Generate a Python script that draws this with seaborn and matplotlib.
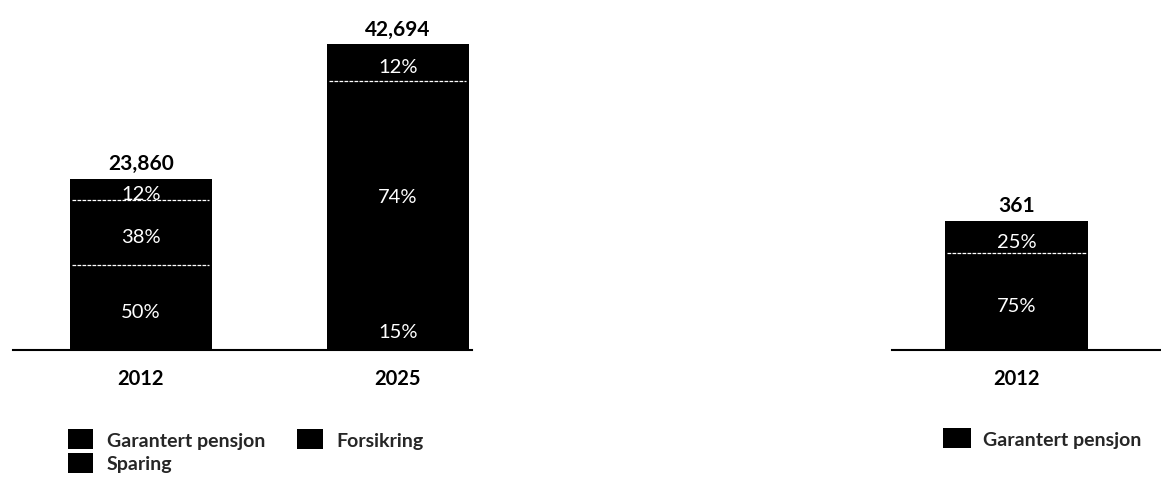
import matplotlib
matplotlib.use("Agg")
import matplotlib.pyplot as plt
import seaborn as sns
import pandas as pd
import numpy as np
from matplotlib.patches import Patch

# ---- data ----
years_left = ["2012", "2025"]
totals_left = [23860, 42694]
garantert_left = [50, 15]
sparing_left = [38, 74]
forsikring_left = [12, 12]

years_right = ["2012"]
totals_right = [361]
garantert_right = [75]
other_right = [25]

legend_left = ["Garantert pensjon", "Forsikring", "Sparing"]
legend_right = ["Garantert pensjon"]

sns.set_theme(style="white")
plt.rcParams["font.family"] = ["Lato", "DejaVu Sans"]

W, H = 1161, 485
fig = plt.figure(figsize=(W / 100, H / 100), dpi=100)


def px_axes(x0, x1, ytop, ybot):
    return fig.add_axes([x0 / W, 1 - ybot / H, (x1 - x0) / W, (ybot - ytop) / H])


def stacked(ax, years, totals, seg_lists, width, hidden_dividers=()):
    segs = np.array(seg_lists, dtype=float)  # shape (nseg, ncat)
    frac = segs / segs.sum(axis=0)
    tot = np.array(totals, dtype=float)
    cum = np.cumsum(frac, axis=0) * tot
    # draw from tallest to shortest
    for level in range(len(seg_lists) - 1, -1, -1):
        df = pd.DataFrame({"year": years, "value": cum[level]})
        sns.barplot(data=df, x="year", y="value", color="black", width=width,
                    ax=ax, saturation=1, edgecolor="none", linewidth=0)
    # dividers and percent labels
    for i, y in enumerate(years):
        lower = 0.0
        for level in range(len(seg_lists)):
            upper = cum[level, i]
            if level < len(seg_lists) - 1 and (i, level) not in hidden_dividers:
                ax.hlines(upper, i - width / 2 + 0.01, i + width / 2 - 0.01,
                          colors="white", linewidth=0.9, linestyles=(0, (3, 1)))
            ax.annotate(f"{int(seg_lists[level][i])}%", (i, (lower + upper) / 2),
                        xytext=(0, -3), textcoords="offset points",
                        ha="center", va="center", color="white", fontsize=14.5)
            lower = upper
        ax.annotate(f"{totals[i]:,}", (i, totals[i]), xytext=(0, 7),
                    textcoords="offset points", ha="center", va="baseline",
                    fontsize=15, fontweight="bold", color="black")
    ax.set_xlabel("")
    ax.set_ylabel("")
    ax.set_yticks([])
    for s in ["left", "right", "top"]:
        ax.spines[s].set_visible(False)
    ax.spines["bottom"].set_color("black")
    ax.spines["bottom"].set_linewidth(1.5)
    ax.tick_params(axis="x", length=0, pad=13, labelsize=14.5)
    for t in ax.get_xticklabels():
        t.set_fontweight("bold")
        t.set_color("black")
    ax.set_facecolor("none")


axL = px_axes(13, 472, 0, 351)
stacked(axL, years_left, totals_left,
        [garantert_left, sparing_left, forsikring_left], 0.553,
        hidden_dividers={(1, 0)})
axL.set_xlim(-0.498, 1.288)
axL.set_ylim(0, 351 / 0.00716)

axR = px_axes(892, 1160, 0, 351)
stacked(axR, years_right, totals_right, [garantert_right, other_right], 0.8)
axR.set_xlim(-0.697, 0.803)
axR.set_ylim(0, 351 / 0.357)

# legends
hL = {lab: Patch(facecolor="black", edgecolor="none") for lab in legend_left}
order = ["Garantert pensjon", "Sparing", "Forsikring"]
fig.legend([hL[k] for k in order], order, loc="upper left",
           bbox_to_anchor=(68 / W, 1 - 430 / H), ncol=2, frameon=False,
           borderpad=0, borderaxespad=0, handlelength=1.3, handleheight=1.2,
           handletextpad=0.7, columnspacing=1.65, labelspacing=0.2,
           prop={"size": 14, "weight": "bold"})
fig.legend([Patch(facecolor="black", edgecolor="none")], legend_right,
           loc="upper left", bbox_to_anchor=(943 / W, 1 - 429 / H),
           frameon=False, borderpad=0, borderaxespad=0, handlelength=1.45,
           handleheight=1.2, handletextpad=0.6, prop={"size": 14, "weight": "bold"})

fig.savefig("out.png", dpi=100, facecolor="white")
